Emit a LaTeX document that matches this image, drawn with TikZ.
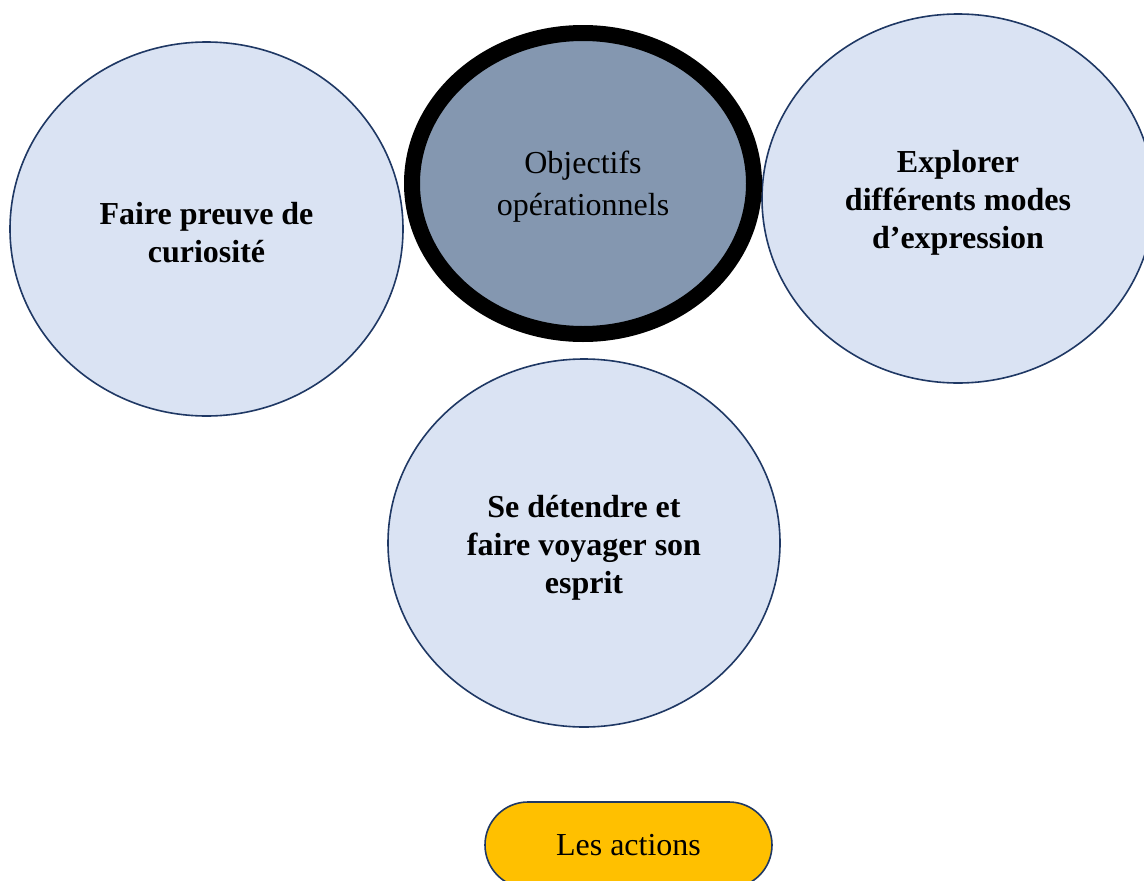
\documentclass[tikz,border=0pt]{standalone}
\usepackage{fontspec}
\setmainfont{Liberation Serif}
\usetikzlibrary{shapes.geometric,shapes.misc}
\definecolor{lightfill}{HTML}{DAE3F3}
\definecolor{midfill}{HTML}{8497B0}
\definecolor{navy}{HTML}{1F3864}
\definecolor{gold}{HTML}{FFC000}
\newcommand\lowtext[2]{\raisebox{-#1pt}[\height][\depth]{\begin{tabular}{@{}c@{}}#2\end{tabular}}}
\begin{document}
\begin{tikzpicture}[x=1pt,y=-1pt,
  goal/.style={ellipse,draw=navy,line width=1.6pt,fill=lightfill,inner sep=0pt,
    font=\fontsize{32}{38}\selectfont\bfseries},
  hub/.style={ellipse,draw=black,line width=16pt,fill=midfill,inner sep=0pt,
    font=\fontsize{32}{42}\selectfont},
  actbox/.style={rounded rectangle,draw=navy,line width=1.6pt,fill=gold,inner sep=0pt,
    font=\fontsize{32}{36}\selectfont}]
\useasboundingbox (0,0) rectangle (1144,881);
\clip (0,0) rectangle (1144,881);
\node[goal,minimum width=393,minimum height=374] (left) at (206.5,229) {\lowtext{7}{Faire preuve de\\curiosité}};
\node[goal,minimum width=392,minimum height=369] (right) at (958,198.5) {\lowtext{4}{Explorer\\différents modes\\d’expression}};
\node[goal,minimum width=392,minimum height=368] (bottom) at (584,543) {\lowtext{5}{Se détendre et\\faire voyager son\\esprit}};
\node[hub,minimum width=342,minimum height=301] (hub) at (583,183.5) {\lowtext{3}{Objectifs\\opérationnels}};
\node[actbox,minimum width=287,minimum height=86] (act) at (628.5,845) {Les actions};
\end{tikzpicture}
\end{document}
